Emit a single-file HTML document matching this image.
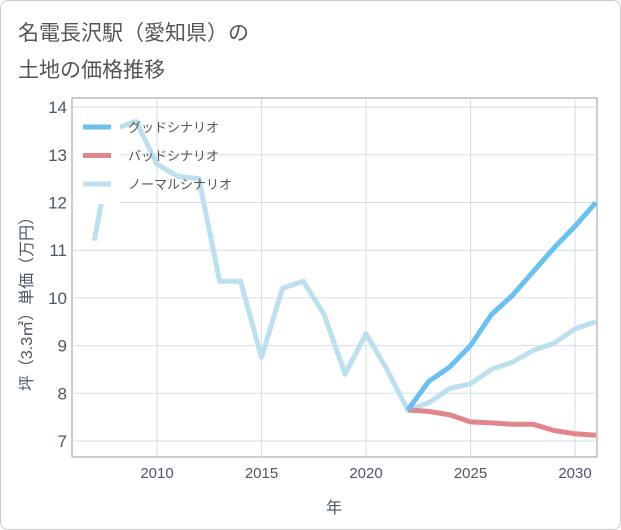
<!DOCTYPE html>
<html><head><meta charset="utf-8"><style>
body{margin:0;background:#fff;font-family:"Liberation Sans","Noto Sans CJK JP",sans-serif;}
#wrap{position:relative;width:619px;height:528px;border:1px solid #ccc;border-radius:8px;background:#fff;}
</style></head><body>
<div id="wrap">
<svg id="chart" width="621" height="530" style="position:absolute;left:-1px;top:-1px"></svg>
</div>
<script>
const normalYears=[2007,2008,2009,2010,2011,2012,2013,2014,2015,2016,2017,2018,2019,2020,2021,2022,2023,2024,2025,2026,2027,2028,2029,2030,2031];
const normalValues=[11.2,13.55,13.7,12.8,12.55,12.5,10.35,10.35,8.75,10.2,10.35,9.65,8.4,9.25,8.5,7.65,7.8,8.1,8.2,8.5,8.65,8.9,9.05,9.35,9.5];
const forecastYears=[2022,2023,2024,2025,2026,2027,2028,2029,2030,2031];
const goodValues=[7.65,8.25,8.55,9.0,9.65,10.05,10.55,11.05,11.5,12.0];
const badValues=[7.65,7.62,7.55,7.4,7.38,7.35,7.35,7.22,7.15,7.12];
const xTicks=[2010,2015,2020,2025,2030];
const yTicks=[7,8,9,10,11,12,13,14];
const NS="http://www.w3.org/2000/svg";
const svg=document.getElementById('chart');
const L=72,R=597,T=98,B=457;
const x=v=>157+(v-2010)*20.9;
const y=v=>441-(v-7)*47.7;
function el(t,a,txt){const e=document.createElementNS(NS,t);for(const k in a)e.setAttribute(k,a[k]);if(txt!==undefined)e.textContent=txt;svg.appendChild(e);return e;}
let e;
e=el('text',{x:18,y:40,'font-size':21,fill:'#555'},'名電長沢駅（愛知県）の');


e=el('text',{x:18,y:77,'font-size':21,fill:'#555'},'土地の価格推移');


e=el('rect',{x:L,y:T,width:R-L,height:B-T,fill:'#fff',stroke:'#999','stroke-width':1});


yTicks.forEach(v=>{
 e=el('line',{x1:L,x2:R,y1:y(v),y2:y(v),stroke:'#d3dde8','stroke-width':1});
 
 
 e=el('text',{x:L-5,y:y(v)+6,'font-size':17,fill:'#4a5766','text-anchor':'end'},String(v));
 
 
});
xTicks.forEach(v=>{
 e=el('line',{x1:x(v),x2:x(v),y1:T,y2:B,stroke:'#d3dde8','stroke-width':1});
 
 
 e=el('text',{x:x(v),y:B+21,'font-size':15,fill:'#4a5766','text-anchor':'middle'},String(v));
 
 
});
e=el('text',{x:334,y:513,'font-size':16,fill:'#4a5766','text-anchor':'middle'},'年');


e=el('text',{x:0,y:0,'font-size':16,fill:'#4a5766','text-anchor':'middle',transform:'translate(32,300) rotate(-90)'},'坪（3.3㎡）単価（万円）');


function line(xs,vs,color,name){
 const d=xs.map((a,i)=>(i?'L':'M')+x(a).toFixed(1)+','+y(vs[i]).toFixed(1)).join(' ');
 const p=el('path',{d:d,fill:'none',stroke:color,'stroke-width':5,'stroke-linejoin':'round'});
 
 
}
line(normalYears,normalValues,'#bde0ee','normal-scenario-line');
line(forecastYears,badValues,'#e0868c','bad-scenario-line');
line(forecastYears,goodValues,'#6cc0f0','good-scenario-line');
e=el('rect',{x:74,y:108,width:46,height:96,fill:'#fff'});


const leg=[['グッドシナリオ','#6cc0f0'],['バッドシナリオ','#e0868c'],['ノーマルシナリオ','#bde0ee']];
leg.forEach((l,i)=>{
 const yy=127+i*28.5;
 e=el('line',{x1:83,x2:111,y1:yy,y2:yy,stroke:l[1],'stroke-width':5});
 
 
 e=el('text',{x:128,y:yy+5,'font-size':13,fill:'#555'},l[0]);
 
 
});
</script>
</body></html>
